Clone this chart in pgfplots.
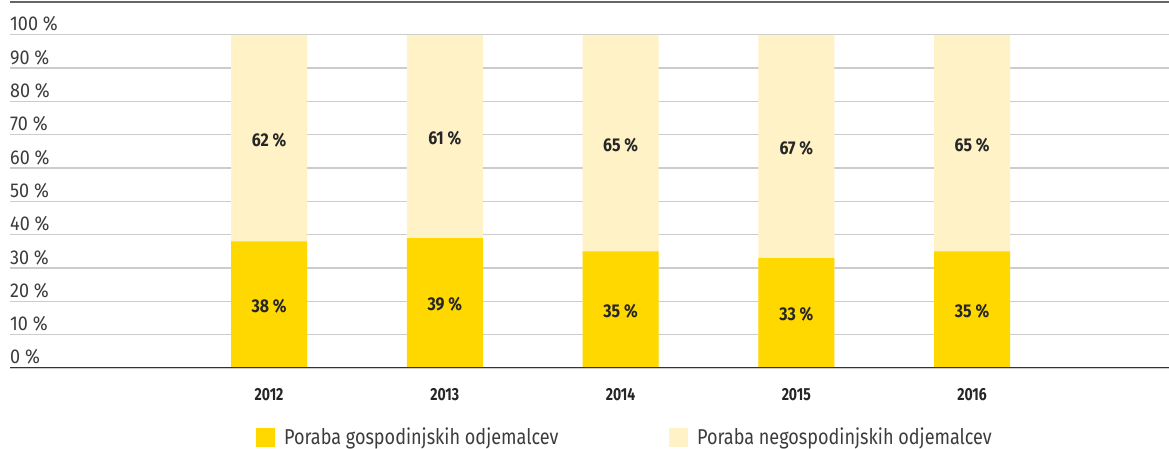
\documentclass[border=0pt]{standalone}
\usepackage{pgfplots}
\pgfplotsset{compat=1.18}
\usepackage{fontspec}
\setmainfont{Fira Sans}
\newfontfamily\legfont{Fira Sans}[FakeStretch=0.84]
\newfontfamily\tickfont{Fira Sans}[FakeStretch=0.9]
\newfontfamily\barfont{Fira Sans}[FakeStretch=0.86]
\newfontfamily\yearfont{Fira Sans}[FakeStretch=0.8]
\definecolor{ydark}{HTML}{FFD800}
\definecolor{ylight}{HTML}{FFF2C6}
\definecolor{gridc}{HTML}{CCCCCC}
\definecolor{txt}{HTML}{3C3C3C}
\begin{document}
\begin{tikzpicture}
\useasboundingbox (-10pt,-81pt) rectangle (1159pt,368pt);
\begin{axis}[
  scale only axis,
  width=1159pt, height=366.5pt,
  xmin=-1.474, xmax=5.121,
  ymin=0, ymax=110,
  axis line style={draw=none},
  ytick={0,10,...,100},
  yticklabels={0 \%,10 \%,20 \%,30 \%,40 \%,50 \%,60 \%,70 \%,80 \%,90 \%,100 \%},
  xtick={0,1,2,3,4},
  xticklabels={2012,2013,2014,2015,2016},
  major tick length=0pt,
  ymajorgrids,
  grid style={gridc, line width=1.3pt},
  yticklabel style={anchor=base west, inner sep=0pt, yshift=4pt, font=\tickfont\fontsize{20}{23}\selectfont, text=txt},
  xticklabel style={anchor=base, inner sep=0pt, yshift=-33pt, font=\yearfont\fontsize{17.5}{20}\selectfont\bfseries, text=black!85},
  legend style={at={(rel axis cs:0.2123,-0.1883)}, anchor=west, draw=none, fill=none, inner sep=0pt, outer sep=0pt,
    nodes={inner sep=0pt, font=\legfont\fontsize{21.5}{24}\selectfont, text=txt},
    /tikz/every odd column/.append style={column sep=9pt}},
  legend columns=2,
  legend cell align=left,
  legend image code/.code={\fill[#1] (0pt,-9.5pt) rectangle (19pt,9.5pt);},
]
\addlegendimage{fill=ydark, draw=none}
\addlegendentry{\makebox[385pt][l]{Poraba gospodinjskih odjemalcev}}
\addlegendimage{fill=ylight, draw=none}
\addlegendentry{Poraba negospodinjskih odjemalcev}

\addplot[ybar, bar width=76pt, bar shift=0pt, fill=ylight, draw=none, forget plot]
  coordinates {(0,100) (1,100) (2,100) (3,100) (4,100)};
\addplot[ybar, bar width=76pt, bar shift=0pt, fill=ydark, draw=none, forget plot]
  coordinates {(0,38) (1,39) (2,35) (3,33) (4,35)};

\addplot[draw=none, mark=none, forget plot, nodes near coords, point meta=explicit symbolic,
  nodes near coords style={anchor=center, font=\barfont\fontsize{18.5}{21}\selectfont\bfseries, text=black!85}]
  coordinates {(0,18.5) [38 \%] (1,19) [39 \%] (2,17) [35 \%] (3,16) [33 \%] (4,17) [35 \%]
               (0,68.5) [62 \%] (1,69) [61 \%] (2,67) [65 \%] (3,66) [67 \%] (4,67) [65 \%]};

\draw[black!80, line width=1.3pt] (rel axis cs:0,0) -- (rel axis cs:1,0);
\draw[black!60, line width=2.3pt] (rel axis cs:0,1) -- (rel axis cs:1,1);
\end{axis}
\end{tikzpicture}
\end{document}
